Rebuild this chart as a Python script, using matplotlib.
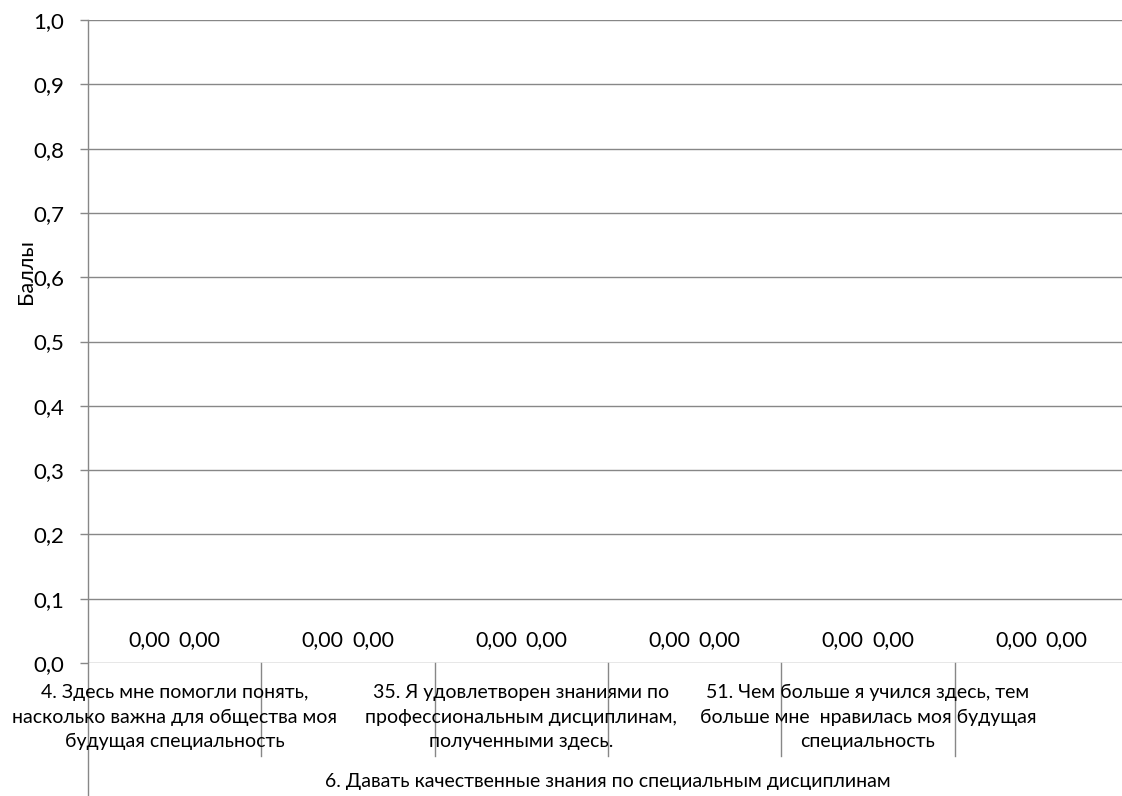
import matplotlib
matplotlib.use("Agg")
import matplotlib.pyplot as plt
import numpy as np

plt.rcParams['font.family'] = ['Lato', 'DejaVu Sans']

categories = [
    "4. Здесь мне помогли понять,\nнасколько важна для общества моя\nбудущая специальность",
    "",
    "35. Я удовлетворен знаниями по\nпрофессиональным дисциплинам,\nполученными здесь.",
    "",
    "51. Чем больше я учился здесь, тем\nбольше мне  нравилась моя будущая\nспециальность",
    "",
]
group_label = "6. Давать качественные знания по специальным дисциплинам"
series1 = [0.0, 0.0, 0.0, 0.0, 0.0, 0.0]
series2 = [0.0, 0.0, 0.0, 0.0, 0.0, 0.0]
yticks = [0.0, 0.1, 0.2, 0.3, 0.4, 0.5, 0.6, 0.7, 0.8, 0.9, 1.0]
ylabel = "Баллы"

W, H = 1122, 796
fig = plt.figure(figsize=(W / 100, H / 100), dpi=100)
left, right, top, bottom = 88, 1128, 20, 663
ax = fig.add_axes([left / W, 1 - bottom / H, (right - left) / W, (bottom - top) / H])

n = len(categories)
x = np.arange(n)
off = 0.145
grid_c = '#878787'

b1 = ax.bar(x - off, series1, width=0.28, color='#4472c4')
b2 = ax.bar(x + off, series2, width=0.28, color='#ed7d31')
for bars, vals in ((b1, series1), (b2, series2)):
    for rect, v in zip(bars, vals):
        ax.annotate(f"{v:.2f}".replace('.', ','),
                    (rect.get_x() + rect.get_width() / 2, v),
                    xytext=(0, 16.5), textcoords='offset points',
                    ha='center', va='center', fontsize=15.3, color='black')

ax.set_xlim(-0.5, n - 0.5)
ax.set_ylim(0, 1.0)
ax.set_yticks(yticks)
ax.set_yticklabels([f"{t:.1f}".replace('.', ',') for t in yticks], fontsize=16)
ax.tick_params(axis='y', length=6, width=1, color=grid_c, pad=11)
for t in yticks:
    ax.axhline(t, color=grid_c, lw=1, zorder=0)

for s in ['top', 'right', 'bottom', 'left']:
    ax.spines[s].set_visible(False)

ax.set_xticks([])
ppx = 1.0 / (bottom - top)  # data units per pixel
ax.plot([-0.5, -0.5], [1.0, -(H - bottom) * ppx], color=grid_c, lw=1, clip_on=False)
for b in np.arange(0.5, n - 0.5, 1.0):
    ax.plot([b, b], [0, -93 * ppx], color=grid_c, lw=1, clip_on=False)

for xi, lab in zip(x, categories):
    if lab:
        ax.text(xi, -(717 - bottom) * ppx, lab, ha='center', va='center', fontsize=14,
                linespacing=1.55, color='black')

ax.text((n - 1) / 2, -(782 - bottom) * ppx, group_label, ha='center', va='center',
        fontsize=14, color='black')

fig.text(26 / W, 1 - 272 / H, ylabel, rotation=90, ha='center', va='center',
         fontsize=15.5, color='black')

fig.savefig("out.png", dpi=100)
